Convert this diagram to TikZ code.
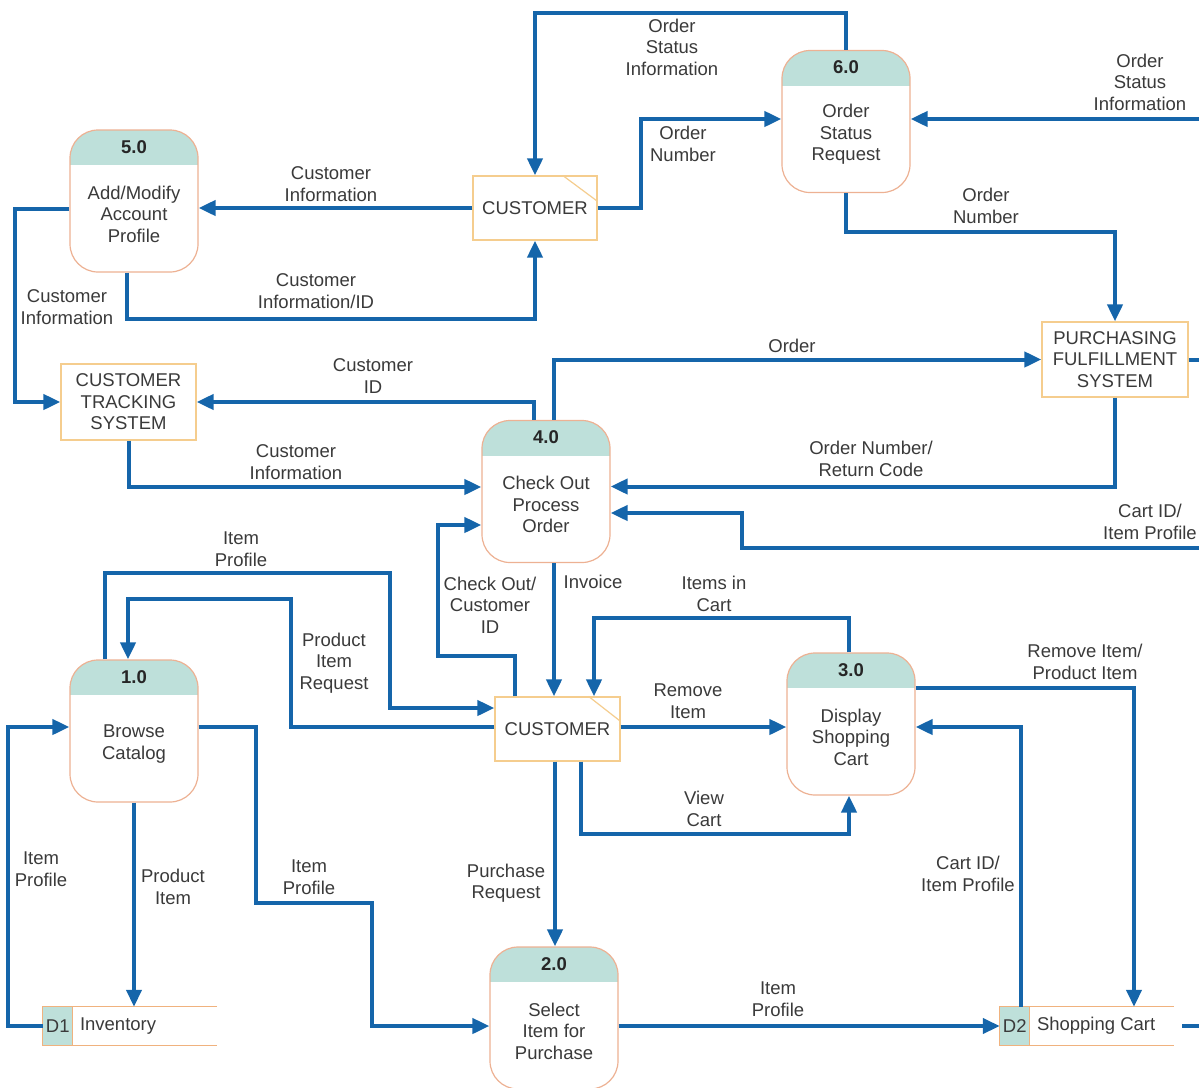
\documentclass[tikz,border=0pt]{standalone}
\usepackage{fontspec}
\setmainfont{Liberation Sans}
\usetikzlibrary{arrows.meta,calc}
\definecolor{flowc}{HTML}{1565AA}
\definecolor{headc}{HTML}{BEE0DA}
\definecolor{procb}{HTML}{EDB193}
\definecolor{entb}{HTML}{F5CD8E}
\definecolor{storeb}{HTML}{F0B27E}
\definecolor{txtc}{HTML}{3A3A3A}
\newcommand\dfdfont{\fontsize{18.5}{21.5}\selectfont}
\tikzset{
  procbox/.style={draw=procb, line width=1.2pt, rounded corners=28pt, minimum width=128pt, minimum height=142pt, inner sep=0pt, fill=white,
    path picture={\fill[headc, sharp corners] (path picture bounding box.north west) rectangle ($(path picture bounding box.north east)+(0,35)$);}},
  procnum/.style={font=\dfdfont\bfseries, text=black!85, inner sep=0pt},
  enti/.style={draw=entb, line width=1.2pt, fill=white, inner sep=0pt, align=center},
  storebox/.style={minimum width=174pt, minimum height=38pt, inner sep=0pt},
  flow/.style={draw=flowc, line width=4pt, -{Triangle[length=17pt,width=15pt]}},
  flowline/.style={draw=flowc, line width=4pt},
  lab/.style={align=center, inner sep=0pt}
}
\newcommand\dfdproc[5]{%
  \node[procbox] (#1) at (#2,#3) {};
  \node[procnum] (#1n) at ($(#1.north)+(0,17.5)$) {#4};
  \node[lab] (#1t) at ($(#1)+(0,13)$) {#5};}
\newcommand\dfdstore[5]{%
  \node[storebox] (#1) at (#2,#3) {};
  \fill[headc] (#1.north west) rectangle ($(#1.south west)+(30,0)$);
  \draw[storeb, line width=1.2pt] ($(#1.north west)+(30,0)$) -- ($(#1.south west)+(30,0)$);
  \draw[storeb, line width=1.2pt] (#1.north east) -- (#1.north west) -- (#1.south west) -- (#1.south east);
  \node[inner sep=0pt] (#1id) at ($(#1.west)+(15,0)$) {#4};
  \node[inner sep=0pt, anchor=west] (#1nm) at ($(#1.west)+(37,0)$) {#5};}
\begin{document}
\begin{tikzpicture}[x=1pt, y=-1pt, font=\dfdfont, text=txtc]
\useasboundingbox (0,0) rectangle (1199,1087);

% processes
\dfdproc{p5}{134}{201}{5.0}{Add/Modify\\Account\\Profile}
\dfdproc{p6}{846}{121.5}{6.0}{Order\\Status\\Request}
\dfdproc{p4}{546}{491.5}{4.0}{Check Out\\Process\\Order}
\dfdproc{p1}{134}{731}{1.0}{Browse\\Catalog}
\dfdproc{p3}{851}{724}{3.0}{Display\\Shopping\\Cart}
\dfdproc{p2}{554}{1018}{2.0}{Select\\Item for\\Purchase}

% entities
\node[enti, minimum width=124pt, minimum height=64pt] (cTop) at (535,208) {CUSTOMER};
\draw[entb, line width=1.2pt] ($(cTop.north east)+(-35,0)$) -- ($(cTop.north east)+(0,26)$);
\node[enti, minimum width=125pt, minimum height=64pt] (cBot) at (557.5,729) {CUSTOMER};
\draw[entb, line width=1.2pt] ($(cBot.north east)+(-32,0)$) -- ($(cBot.north east)+(0,25)$);
\node[enti, minimum width=135pt, minimum height=76pt] (cts) at (128.5,402) {CUSTOMER\\TRACKING\\SYSTEM};
\node[enti, minimum width=146pt, minimum height=75pt] (pfs) at (1115,359.5) {PURCHASING\\FULFILLMENT\\SYSTEM};

% data stores
\dfdstore{d1}{130}{1026}{D1}{Inventory}
\dfdstore{d2}{1087}{1026}{D2}{Shopping Cart}

% edge coordinates
\coordinate (eR1) at (1199,119);
\coordinate (eR2) at (1199,548);
\coordinate (eR3) at (1199,359.5);
\coordinate (eR4) at (1199,1026);

% flows
\draw[flow] (p6.north) -- ++(0,-37) -| (cTop.north);
\draw[flow] (cTop.east) -- ++(43,0) |- ($(p6.west)+(0,-2.5)$);
\draw[flow] (eR1) -- (eR1 -| p6.east);
\draw[flow] (p6.south) -- ++(0,39) -| (pfs.north);
\draw[flow] (cTop.west) -- (cTop.west -| p5.east);
\draw[flow] ($(p5.south)+(-7,0)$) -- ++(0,46) -| (cTop.south);
\draw[flow] ($(p5.west)+(0,8)$) -- ++(-54,0) |- (cts.west);
\draw[flow] ($(p4.north)+(-12,0)$) |- (cts.east);
\draw[flow] ($(p4.north)+(8,0)$) |- (pfs.west);
\draw[flow] (cts.south) |- ($(p4.west)+(0,-4.5)$);
\draw[flow] (pfs.south) |- ($(p4.east)+(0,-5)$);
\draw[flow] (eR2) -- ++(-457,0) |- ($(p4.east)+(0,21.5)$);
\draw[flowline] (pfs.east) -- (eR3);
\draw[flow] ($(cBot.north)+(-42.5,0)$) -- ++(0,-40) -- ++(-77,0) |- ($(p4.west)+(0,33.5)$);
\coordinate (inv) at ($(p4.south)+(8,0)$);
\draw[flow] (inv) -- (inv |- cBot.north);
\draw[flow] ($(p3.north)+(-2,0)$) -- ++(0,-34) -| ($(cBot.north)+(36.5,0)$);
\draw[flow] ($(p1.north)+(-29,0)$) |- (390,573) |- ($(cBot.west)+(0,-21)$);
\draw[flow] ($(cBot.west)+(0,-2)$) -- ++(-203,0) -- ++(0,-128) -| ($(p1.north)+(-6,0)$);
\draw[flow] ($(cBot.east)+(0,-2)$) -- ($(p3.west)+(0,3)$);
\draw[flow] ($(cBot.south)+(23.5,0)$) -- ++(0,72) -| ($(p3.south)+(-2,0)$);
\coordinate (prq) at ($(cBot.south)+(-2.5,0)$);
\draw[flow] (prq) -- (prq |- p2.north);
\draw[flow] (d1.west) -- ++(-35,0) |- ($(p1.west)+(0,-4)$);
\draw[flow] (p1.south) -- (p1.south |- d1.north);
\draw[flow] ($(p1.east)+(0,-4)$) -- ++(57,0) -- ++(0,176) -- ++(116,0) |- ($(p2.west)+(0,8)$);
\draw[flow] (d2.west -| p2.east) -- (d2.west);
\draw[flow] ($(d2.north)+(-66,0)$) |- ($(p3.east)+(0,3)$);
\draw[flow] ($(p3.east)+(0,-36)$) -| ($(d2.north)+(47,0)$);
\draw[flowline] ($(d2.east)+(8,0)$) -- (eR4);

% labels
\node[lab] (l1) at (672,47) {Order\\Status\\Information};
\node[lab] (l2) at (683,144) {Order\\Number};
\node[lab] (l3) at (1140,82) {Order\\Status\\Information};
\node[lab] (l4) at (986,206) {Order\\Number};
\node[lab] (l5) at (331,184) {Customer\\Information};
\node[lab] (l6) at (316,291) {Customer\\Information/ID};
\node[lab] (l7) at (67,307) {Customer\\Information};
\node[lab] (l8) at (373,376) {Customer\\ID};
\node[lab] (l9) at (792,346) {Order};
\node[lab] (l10) at (296,462) {Customer\\Information};
\node[lab] (l11) at (871,459) {Order Number/\\Return Code};
\node[lab] (l12) at (1150,522) {Cart ID/\\Item Profile};
\node[lab] (l13) at (490,605) {Check Out/\\Customer\\ID};
\node[lab] (l14) at (593,582) {Invoice};
\node[lab] (l15) at (714,594) {Items in\\Cart};
\node[lab] (l16) at (241,549) {Item\\Profile};
\node[lab] (l17) at (334,663) {Product\\Item\\Request};
\node[lab] (l18) at (688,701) {Remove\\Item};
\node[lab] (l19) at (704,809) {View\\Cart};
\node[lab] (l20) at (506,883) {Purchase\\Request};
\node[lab] (l21) at (41,869) {Item\\Profile};
\node[lab] (l22) at (173,887) {Product\\Item};
\node[lab] (l23) at (309,877) {Item\\Profile};
\node[lab] (l24) at (778,999) {Item\\Profile};
\node[lab] (l25) at (968,874) {Cart ID/\\Item Profile};
\node[lab] (l26) at (1085,662) {Remove Item/\\Product Item};
\end{tikzpicture}
\end{document}
